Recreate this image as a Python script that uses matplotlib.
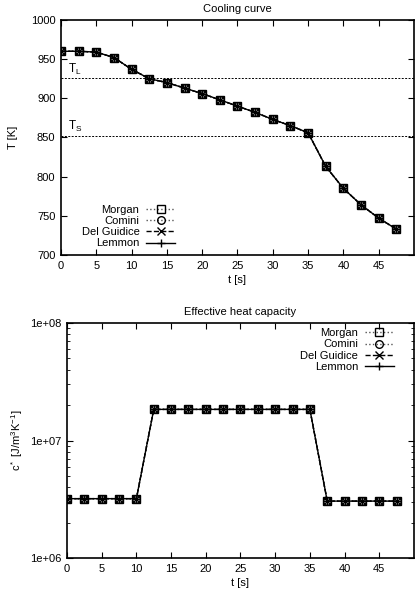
import numpy as np
import matplotlib
matplotlib.use("Agg")
import matplotlib.pyplot as plt
from matplotlib.ticker import LogLocator, FixedFormatter, FixedLocator

plt.rcParams['font.family'] = ['Liberation Sans', 'DejaVu Sans']
plt.rcParams['font.size'] = 8
plt.rcParams['mathtext.fontset'] = 'custom'
plt.rcParams['mathtext.rm'] = 'Liberation Sans'
plt.rcParams['mathtext.it'] = 'Liberation Sans'

# dane
t = [0, 2.5, 5, 7.5, 10, 12.5, 15, 17.5, 20, 22.5, 25, 27.5, 30, 32.5, 35,
     37.5, 40, 42.5, 45, 47.5]
temp = [960, 960, 959, 952, 937, 925, 920, 913, 906, 898, 890, 882, 873, 865,
        856, 813, 785, 764, 747, 733]
cap = [3.2e6, 3.2e6, 3.2e6, 3.2e6, 3.2e6, 1.84e7, 1.84e7, 1.84e7, 1.84e7,
       1.84e7, 1.84e7, 1.84e7, 1.84e7, 1.84e7, 1.84e7, 3.05e6, 3.05e6,
       3.05e6, 3.05e6, 3.05e6]
T_L = 925.5
T_S = 852.5

metody = ['Morgan', 'Comini', 'Del Guidice', 'Lemmon']
markery = ['s', 'o', 'x', '+']
style = [':', ':', '--', '-']
kolory = ['#555555', '#555555', 'black', 'black']

fig = plt.figure(figsize=(4.2, 5.92), dpi=100)
ax1 = fig.add_axes([0.1452, 0.5693, 0.8405, 0.3970])
ax2 = fig.add_axes([0.1595, 0.0574, 0.8262, 0.3970])


def rysuj(ax, y):
    for m, mk, ls, c in zip(metody, markery, style, kolory):
        ax.plot(t, y, linestyle=ls, color=c, marker=mk, markersize=5.5,
                markerfacecolor='none', markeredgecolor='black',
                markeredgewidth=1.0, linewidth=1.0, label=m)


def ticki(ax):
    ax.tick_params(direction='in', top=True, right=True, length=4,
                   width=0.8, pad=4)
    ax.tick_params(which='minor', direction='in', right=True, left=True,
                   length=2, width=0.6)
    for s in ax.spines.values():
        s.set_linewidth(1.2)


# wykres 1
rysuj(ax1, temp)
ax1.axhline(T_L, color='black', linestyle=(0, (2, 1.5)), linewidth=0.7)
ax1.axhline(T_S, color='black', linestyle=(0, (2, 1.5)), linewidth=0.7)
ax1.text(1.0, T_L + 7, r'T$_\mathrm{L}$', fontsize=8.5)
ax1.text(1.0, T_S + 7, r'T$_\mathrm{S}$', fontsize=8.5)
ax1.set_xlim(0, 50)
ax1.set_ylim(700, 1000)
ax1.set_xticks(np.arange(0, 50, 5))
ax1.set_yticks(np.arange(700, 1001, 50))
ax1.set_xlabel('t [s]', labelpad=3)
ax1.set_ylabel('T [K]', labelpad=9)
ax1.set_title('Cooling curve', fontsize=8, pad=6)
ticki(ax1)
ax1.legend(loc='lower left', bbox_to_anchor=(0.03, -0.015), frameon=False,
           markerfirst=False, handlelength=2.6, labelspacing=0.1,
           handletextpad=0.6, borderpad=0.4)

# wykres 2
rysuj(ax2, cap)
ax2.set_yscale('log')
ax2.set_xlim(0, 50)
ax2.set_ylim(1e6, 1e8)
ax2.set_xticks(np.arange(0, 50, 5))
ax2.yaxis.set_major_locator(FixedLocator([1e6, 1e7, 1e8]))
ax2.yaxis.set_major_formatter(FixedFormatter(['1e+06', '1e+07', '1e+08']))
ax2.yaxis.set_minor_locator(LogLocator(base=10, subs=np.arange(2, 10)))
ax2.yaxis.set_minor_formatter(plt.NullFormatter())
ax2.set_xlabel('t [s]', labelpad=3)
ax2.set_ylabel(r'c$^*$ [J/m$^3$K$^{-1}$]', labelpad=4)
ax2.set_title('Effective heat capacity', fontsize=8, pad=6)
ticki(ax2)
ax2.legend(loc='upper right', bbox_to_anchor=(0.97, 1.02), frameon=False,
           markerfirst=False, handlelength=2.6, labelspacing=0.1,
           handletextpad=0.6, borderpad=0.4)

fig.savefig('out.png', dpi=100)
